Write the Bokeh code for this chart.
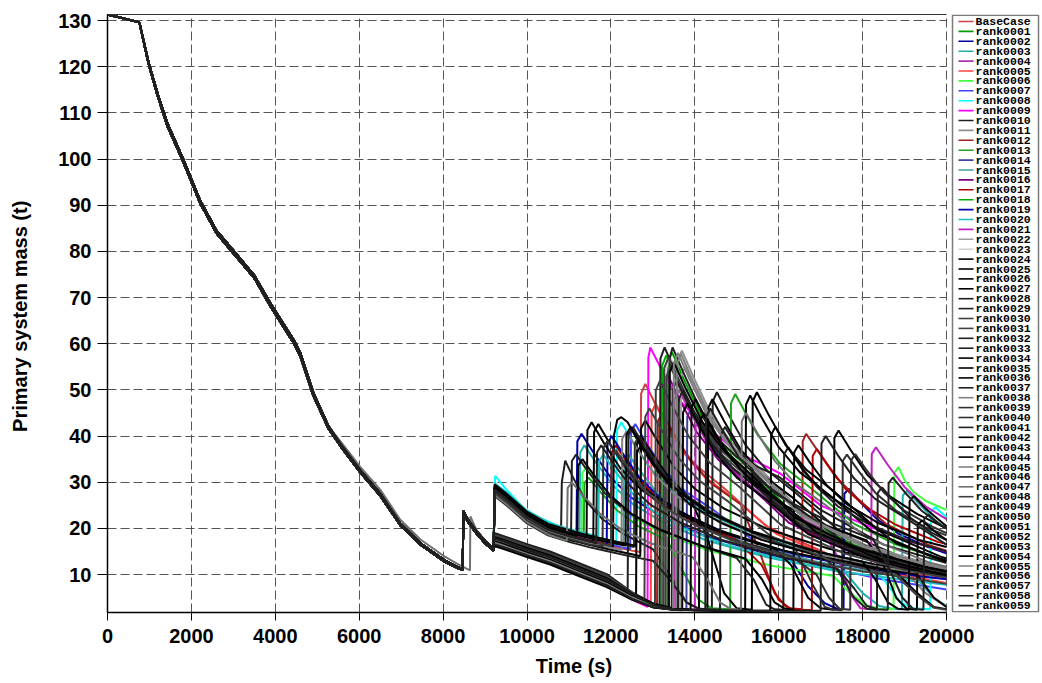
from bokeh.plotting import figure
from bokeh.models import Range1d, FixedTicker, LinearAxis
from bokeh.core.properties import value
from bokeh.embed import file_html
from bokeh.resources import INLINE

# ---------------- data ----------------
NAMES = ["BaseCase"] + ["rank%04d" % i for i in range(1, 60)]

COLORS = ["#d04040", "#00a000", "#0000a0", "#20b0b0", "#b030b0", "#ff4040", "#40ff40", "#4040ff",
          "#00ffff", "#ff00ff", "#202020", "#909090", "#a02020", "#20a020", "#4040a0", "#40a0a0",
          "#800080", "#b00000", "#00b000", "#0000b0", "#20c0c0", "#c020c0", "#a0a0a0", "#d0d0d0",
          "#000000", "#000000", "#000000", "#000000", "#202020", "#202020", "#404040", "#404040",
          "#202020", "#202020", "#000000", "#000000", "#000000", "#202020", "#808080", "#303030",
          "#303030", "#202020", "#000000", "#000000", "#000000", "#808080", "#202020", "#707070",
          "#404040", "#404040", "#000000", "#000000", "#000000", "#000000", "#000000", "#808080",
          "#404040", "#202020", "#202020", "#202020"]

BAND = "ULUULLUUUL" "ULLULULULU" "ULLLUUUULL" "LLLLLLLUUU" "ULLLULUULL" "ULLULLULUL"

X_TICKS = [0, 2000, 4000, 6000, 8000, 10000, 12000, 14000, 16000, 18000, 20000]
Y_TICKS = [10, 20, 30, 40, 50, 60, 70, 80, 90, 100, 110, 120, 130]

EARLY_T = [0, 760, 980, 1200, 1430, 1790, 2200, 2600, 3000, 3500, 3880, 4440, 4600, 4910,
           5270, 5550, 6020, 6500, 6980, 7460, 8020, 8330, 8440]
EARLY_M_UP = [131.3, 129.6, 120.9, 114.0, 107.7, 100.3, 91.2, 84.5, 80.2, 74.8, 68.8, 60.8, 57.9, 49.3,
              42.1, 38.4, 32.7, 27.6, 21.1, 16.8, 13.2, 11.7, 11.3]
EARLY_M_LO = [131.3, 129.6, 120.6, 113.5, 107.1, 99.7, 90.6, 83.9, 79.6, 74.2, 68.2, 60.1, 57.2, 48.7,
              41.6, 37.9, 32.2, 27.1, 20.7, 16.5, 12.9, 11.5, 11.1]

J1_T = [8470, 8480, 8600, 8800, 9000, 9205]
J1_M_UP = [11.1, 23.8, 21.8, 19.4, 17.3, 15.6]
J1_M_LO = [11.0, 23.3, 21.3, 18.9, 16.8, 15.2]

ALT_SERIES = 47
ALT_T = [5270, 5550, 6020, 6500, 6980, 7460, 8020, 8330, 8640, 8650, 8800, 9000, 9205]
ALT_M = [42.1, 38.9, 33.4, 28.4, 21.9, 17.6, 14.0, 12.4, 10.9, 22.6, 19.6, 17.4, 15.5]

LATE_T = [
    [9230, 9500, 10000, 10500, 11000, 11500, 12000, 12500, 12700, 12720, 12820, 13100, 13500, 14000, 14700, 15700, 17200, 18700, 20000],
    [9220, 9430, 10000, 10550, 11100, 11900, 12500, 13000, 13335, 13355, 13455, 13735, 14135, 14635, 15335, 16335, 17835, 19335, 20000],
    [9230, 9500, 10000, 10500, 11000, 11180, 11200, 11300, 11580, 11980, 12480, 13180, 14180, 15680, 16300, 16700, 17100, 17400, 17545, 17565, 17665, 17945, 18345, 18845, 19545, 20000],
    [9230, 9500, 10000, 10500, 11000, 11250, 11270, 11370, 11650, 12050, 12550, 13250, 14250, 15750, 17250, 17600, 18000, 18400, 18700, 18937, 18957, 19057, 19337, 19737, 20000],
    [9220, 9430, 10000, 10550, 11100, 11900, 12500, 13000, 13500, 13520, 13620, 13900, 14300, 14800, 15500, 16500, 18000, 19500, 20000],
    [9220, 9430, 10000, 10550, 11100, 11900, 12500, 12950, 12970, 13070, 13350, 13750, 14250, 14950, 15950, 17450, 18950, 20000],
    [9230, 9500, 10000, 10500, 11000, 11300, 11320, 11420, 11700, 12100, 12600, 13300, 14300, 15800, 17300, 17700, 18100, 18400, 18737, 18757, 18857, 19000, 19200, 19500, 20000],
    [9230, 9500, 10000, 10500, 11000, 11500, 12000, 12460, 12480, 12580, 12860, 13260, 13760, 14460, 15460, 16960, 18460, 20000],
    [9240, 9500, 10000, 10800, 11111, 11600, 12063, 12127, 12147, 12247, 12527, 12927, 13427, 14127, 15127, 16627, 18127, 18500, 18900, 19200, 19611, 19631, 19731, 20000],
    [9220, 9430, 10000, 10550, 11100, 11900, 12500, 12873, 12893, 12940, 13175, 13600, 14370, 15085, 16037, 17000, 18000, 19000, 20000],
    [9230, 9500, 10000, 10500, 10810, 10830, 10911, 11100, 11400, 11800, 12300, 13000, 13400, 13800, 14100, 14407, 14427, 14527, 14807, 15207, 15707, 16407, 17407, 18907, 20000],
    [9220, 9430, 10000, 10550, 11100, 11900, 12500, 13000, 13500, 13573, 13593, 13693, 13973, 14373, 14873, 15573, 16573, 18073, 19573, 20000],
    [9220, 9430, 10000, 10550, 11100, 11900, 12500, 13000, 13100, 13120, 13220, 13500, 13900, 14400, 15100, 15500, 15900, 16200, 16553, 16573, 16653, 16953, 17353, 17853, 18553, 19553, 20000],
    [9230, 9500, 10000, 10500, 11000, 11350, 11370, 11470, 11750, 12150, 12650, 13350, 13700, 14100, 14400, 14843, 14863, 14963, 15480, 16037, 16800, 17800, 18800, 20000],
    [9220, 9430, 10000, 10550, 11100, 11900, 12500, 13000, 13500, 13800, 13820, 13920, 14200, 14600, 15100, 15800, 16800, 18300, 19800, 20000],
    [9230, 9500, 10000, 10500, 11000, 11500, 12000, 12300, 12320, 12420, 12700, 13100, 13600, 14300, 15300, 16800, 18300, 19300, 19700, 20000],
    [9220, 9430, 10000, 10550, 11100, 11900, 12500, 13000, 13250, 13270, 13370, 13650, 14050, 14550, 15250, 16250, 17750, 19250, 20000],
    [9230, 9500, 10000, 10500, 11000, 11500, 12000, 12020, 12120, 12400, 12800, 13300, 14000, 15000, 15600, 16000, 16300, 16790, 16810, 16910, 17190, 17590, 18090, 18790, 19790, 20000],
    [9220, 9430, 10000, 10550, 11100, 11900, 12500, 13000, 13200, 13220, 13320, 13600, 14000, 14500, 15200, 16200, 17700, 19200, 20000],
    [9230, 9500, 10000, 10500, 11000, 11500, 11900, 11920, 12020, 12300, 12700, 13200, 13900, 14900, 16400, 17900, 19400, 20000],
    [9230, 9500, 10000, 10500, 11000, 11500, 11700, 11720, 11820, 12100, 12500, 13000, 13700, 14700, 16200, 17700, 19200, 20000],
    [9220, 9430, 10000, 10550, 11100, 11900, 12500, 13000, 13500, 14000, 14020, 14120, 14400, 14800, 15300, 16000, 17000, 17400, 17700, 17950, 18198, 18218, 18318, 18598, 18998, 19498, 20000],
    [9220, 9430, 10000, 10550, 11100, 11900, 12500, 13000, 13500, 13650, 13670, 13770, 14050, 14450, 14950, 15650, 16650, 18150, 19650, 20000],
    [9220, 9430, 10000, 10550, 11100, 11900, 12500, 13000, 13300, 13320, 13420, 13700, 14100, 14600, 15300, 16300, 17800, 19300, 20000],
    [9230, 9500, 10000, 10500, 11000, 11420, 11440, 11540, 11820, 12220, 12720, 13420, 14420, 15920, 16300, 16700, 17000, 17307, 17327, 17427, 17707, 18107, 18607, 19307, 20000],
    [9230, 9500, 10000, 10500, 11000, 11500, 11580, 11600, 11700, 11980, 12380, 12880, 13580, 14580, 16080, 17580, 18800, 19300, 19700, 20000],
    [9230, 9500, 10000, 10500, 11000, 11500, 12050, 12070, 12150, 12250, 12400, 12700, 13100, 13600, 14300, 15300, 16800, 18300, 20000],
    [9230, 9500, 10000, 10500, 11000, 11500, 12000, 12500, 12700, 12720, 12820, 13100, 13500, 14000, 14700, 15700, 17200, 18700, 20000],
    [9220, 9430, 10000, 10550, 11100, 11900, 12500, 13000, 13160, 13180, 13280, 13560, 13960, 14460, 15160, 16160, 17660, 19160, 20000],
    [9220, 9430, 10000, 10550, 11100, 11900, 12500, 13000, 13380, 13400, 13470, 13750, 14370, 15000, 16037, 17000, 18500, 20000],
    [9220, 9430, 10000, 10550, 11100, 11900, 12500, 13000, 13250, 13270, 13370, 13650, 14050, 14550, 15250, 16250, 17750, 19250, 20000],
    [9220, 9430, 10000, 10550, 11100, 11900, 12500, 13000, 13300, 13320, 13420, 13700, 14100, 14600, 15300, 16300, 17800, 19300, 20000],
    [9220, 9430, 10000, 10550, 11100, 11900, 12500, 13000, 13450, 13470, 13570, 13850, 14250, 14750, 15450, 16450, 17950, 19450, 20000],
    [9220, 9430, 10000, 10550, 11100, 11900, 12500, 13000, 13500, 13600, 13620, 13720, 14000, 14400, 14900, 15600, 16600, 18100, 19600, 20000],
    [9220, 9430, 10000, 10550, 11100, 11900, 12500, 13000, 13500, 14000, 14300, 14320, 14420, 14700, 15100, 15600, 16300, 17300, 18800, 20000],
    [9220, 9430, 10000, 10550, 11100, 11900, 12500, 13000, 13500, 14500, 15200, 15220, 15320, 15600, 16000, 16500, 17200, 18200, 19700, 20000],
    [9220, 9430, 10000, 10550, 11100, 11900, 12600, 12620, 12720, 13000, 13400, 13900, 14300, 14700, 15000, 15360, 15380, 15480, 15760, 16160, 16660, 17360, 18360, 19860, 20000],
    [9230, 9500, 10000, 10500, 11000, 11050, 11070, 11170, 11450, 11850, 12350, 13050, 14050, 15000, 15400, 15700, 15900, 16110, 16130, 16230, 16510, 16910, 17410, 18110, 19110, 20000],
    [9230, 9500, 10000, 10500, 11000, 11500, 12000, 12250, 12270, 12370, 12650, 13050, 13550, 14250, 15250, 16750, 18250, 19000, 19500, 20000],
    [9230, 9500, 10000, 10500, 11000, 11500, 12000, 12550, 12570, 12670, 12950, 13350, 13850, 14550, 15550, 16400, 16800, 17100, 17300, 17507, 17527, 17627, 17907, 18307, 18807, 19507, 20000],
    [9230, 9500, 10000, 10500, 11000, 11500, 11800, 11820, 11920, 12200, 12600, 13100, 13800, 14800, 16300, 16900, 17200, 17450, 17705, 17725, 17825, 18105, 18505, 19005, 19705, 20000],
    [9220, 9430, 10000, 10550, 11100, 11900, 12400, 12420, 12520, 12800, 13200, 13700, 14400, 15400, 16900, 17400, 17800, 18100, 18341, 18361, 18461, 18741, 19141, 19641, 20000],
    [9220, 9430, 10000, 10550, 11100, 11900, 12500, 13000, 13500, 13700, 13720, 13820, 14100, 14500, 15000, 15700, 16700, 18200, 19700, 20000],
    [9220, 9430, 10000, 10550, 11100, 11900, 12500, 13000, 13500, 14100, 14120, 14220, 14500, 14900, 15400, 16100, 17100, 18100, 18500, 18800, 19050, 19295, 19315, 19415, 19695, 20000],
    [9230, 9500, 10000, 10500, 11000, 11500, 12000, 12500, 12600, 12620, 12720, 13000, 13400, 13900, 14600, 15600, 17100, 18600, 19300, 19700, 20000],
    [9220, 9430, 10000, 10550, 11100, 11900, 12500, 13000, 13500, 13550, 13570, 13670, 13950, 14350, 14850, 15550, 16550, 18050, 19550, 20000],
    [9230, 9500, 10000, 10500, 11000, 11500, 12000, 12500, 13000, 13400, 13800, 14100, 14600, 14620, 14720, 15000, 15400, 15900, 16600, 17600, 19100, 20000],
    [9230, 9500, 10000, 10500, 10950, 10970, 11070, 11350, 11750, 12250, 12950, 13950, 14300, 14600, 14850, 15100, 15120, 15220, 15500, 15900, 16400, 17100, 18100, 19600, 20000],
    [9220, 9430, 10000, 10550, 11100, 11900, 12500, 12800, 12820, 12920, 13200, 13600, 14100, 14800, 15800, 17300, 18800, 20000],
    [9220, 9430, 10000, 10550, 11100, 11900, 12500, 13000, 13050, 13070, 13170, 13450, 13850, 14350, 15050, 16050, 17550, 19050, 20000],
    [9230, 9500, 10000, 10500, 11000, 11500, 12000, 12350, 12370, 12470, 12750, 13150, 13650, 14350, 15350, 16850, 18000, 18300, 18600, 18850, 19100, 19120, 19220, 19500, 20000],
    [9220, 9430, 10000, 10550, 11100, 11900, 12500, 13000, 13380, 13400, 13500, 13780, 14180, 14680, 15380, 16380, 17880, 19380, 20000],
    [9220, 9430, 10000, 10550, 11100, 11900, 12500, 13000, 13500, 14500, 15800, 15820, 15920, 16200, 16600, 17100, 17800, 18800, 20000],
    [9230, 9500, 10000, 10500, 11000, 11200, 11220, 11320, 11600, 12000, 12500, 13200, 14200, 15200, 15600, 15900, 16150, 16350, 16370, 16470, 16750, 17150, 17650, 18350, 19350, 20000],
    [9220, 9430, 10000, 10550, 11100, 11900, 12500, 13000, 13500, 13900, 13920, 14020, 14300, 14700, 15200, 15900, 16900, 18400, 19900, 20000],
    [9220, 9430, 10000, 10550, 11100, 11900, 12500, 13000, 13480, 13500, 13600, 13880, 14280, 14780, 15480, 16480, 17980, 19480, 20000],
    [9230, 9500, 10000, 10500, 11000, 11500, 12000, 12020, 12120, 12400, 12800, 13300, 14000, 15000, 16500, 18000, 18800, 19300, 19700, 20000],
    [9220, 9430, 10000, 10550, 11100, 11900, 12500, 13000, 13500, 14250, 14270, 14370, 14650, 15050, 15550, 16250, 17250, 18250, 18600, 18950, 19200, 19450, 19470, 19570, 19850, 20000],
    [9230, 9500, 10000, 10500, 11000, 11500, 11650, 11670, 11770, 12050, 12450, 12950, 13650, 14650, 16150, 17400, 17800, 18100, 18350, 18600, 18620, 18720, 19000, 19400, 19900, 20000],
    [9220, 9430, 10000, 10550, 11100, 11900, 12500, 13000, 13500, 15000, 17000, 17020, 17120, 17400, 17800, 18300, 19000, 20000],
]

LATE_M = [
    [28.3, 26.4, 22.4, 19.8, 18.4, 17.2, 16.2, 15.2, 14.9, 49.2, 51.3, 46.2, 39.5, 33.9, 28.7, 20.5, 14.4, 11.0, 9.0],
    [17.6, 17.0, 15.2, 13.6, 11.6, 8.7, 5.6, 3.4, 2.6, 55.9, 58.2, 52.4, 44.8, 38.4, 32.6, 23.3, 16.3, 12.2, 10.8],
    [28.8, 26.9, 22.9, 20.3, 18.9, 18.7, 38.9, 40.5, 36.5, 31.2, 26.7, 22.7, 18.6, 14.6, 13.2, 7.5, 3.8, 2.6, 2.5, 27.5, 28.6, 25.7, 22.0, 18.9, 16.0, 14.6],
    [29.3, 27.4, 23.4, 20.8, 19.4, 18.9, 36.5, 38.0, 34.2, 29.3, 25.1, 21.3, 17.5, 13.7, 11.0, 10.3, 6.0, 3.2, 2.6, 2.5, 27.1, 28.2, 25.4, 21.7, 20.0],
    [17.1, 16.5, 14.7, 13.1, 11.1, 8.2, 5.3, 3.2, 2.4, 48.0, 50.0, 45.0, 38.5, 33.0, 28.0, 20.0, 14.0, 10.5, 9.8],
    [18.6, 18.0, 16.2, 14.6, 12.6, 9.7, 6.1, 4.0, 45.1, 47.0, 42.3, 36.2, 31.0, 26.3, 18.8, 13.2, 9.9, 8.2],
    [27.8, 25.9, 21.9, 19.3, 17.9, 17.5, 32.0, 33.3, 30.0, 25.6, 22.0, 18.6, 15.3, 12.0, 9.7, 6.0, 3.4, 2.6, 2.5, 32.0, 33.3, 30.5, 28.0, 26.0, 24.0],
    [28.6, 26.7, 22.7, 20.1, 18.7, 17.5, 16.5, 15.5, 40.9, 42.6, 38.3, 32.8, 28.1, 23.9, 17.0, 11.9, 9.0, 6.8],
    [31.4, 28.5, 23.6, 20.3, 19.2, 17.8, 16.7, 16.6, 41.3, 43.0, 38.7, 33.1, 28.4, 24.1, 19.8, 15.5, 12.5, 9.0, 4.0, 2.7, 2.5, 23.6, 24.6, 22.5],
    [16.6, 16.0, 14.2, 12.6, 10.6, 7.7, 4.6, 3.0, 57.0, 59.2, 55.0, 48.0, 41.2, 36.2, 31.9, 25.0, 21.0, 17.5, 15.0],
    [28.0, 26.1, 22.1, 19.5, 18.6, 30.0, 34.7, 31.0, 26.0, 22.0, 18.8, 15.5, 10.0, 4.0, 2.6, 2.4, 47.5, 49.5, 44.6, 38.1, 32.7, 27.7, 19.8, 13.9, 11.5],
    [17.9, 17.3, 15.5, 13.9, 11.9, 9.0, 5.8, 3.5, 2.5, 2.4, 56.2, 58.5, 52.7, 45.0, 38.6, 32.8, 23.4, 16.4, 12.3, 11.5],
    [18.1, 17.5, 15.7, 14.1, 12.1, 9.2, 5.9, 3.6, 3.3, 43.2, 45.0, 40.5, 34.7, 29.7, 25.2, 16.0, 6.0, 2.8, 2.5, 38.9, 40.5, 36.5, 31.2, 26.7, 21.0, 16.5, 15.2],
    [27.3, 25.4, 21.4, 18.8, 17.4, 17.0, 29.8, 31.0, 27.9, 23.9, 20.5, 17.4, 11.0, 4.5, 2.7, 2.5, 47.1, 49.1, 40.5, 34.0, 28.5, 21.0, 16.5, 13.0],
    [17.3, 16.7, 14.9, 13.3, 11.3, 8.4, 5.4, 3.3, 2.5, 2.4, 44.2, 46.0, 41.4, 35.4, 30.4, 25.8, 18.4, 12.9, 9.7, 9.4],
    [29.1, 27.2, 23.2, 20.6, 19.2, 18.0, 17.0, 16.6, 34.6, 36.0, 32.4, 27.7, 23.8, 20.2, 16.6, 13.0, 10.4, 9.0, 5.0, 3.2],
    [18.4, 17.8, 16.0, 14.4, 12.4, 9.5, 6.0, 3.7, 3.0, 50.9, 53.0, 47.7, 40.8, 35.0, 29.7, 21.2, 14.8, 11.1, 10.0],
    [28.5, 26.6, 22.6, 20.0, 18.6, 17.4, 16.4, 36.5, 38.0, 34.2, 29.3, 25.1, 21.3, 17.5, 12.0, 4.5, 2.5, 2.3, 35.7, 37.2, 33.5, 28.6, 24.6, 20.8, 17.1, 16.6],
    [16.8, 16.2, 14.4, 12.8, 10.8, 7.9, 5.0, 3.1, 2.8, 55.2, 57.5, 51.8, 44.3, 38.0, 32.2, 23.0, 16.1, 12.1, 10.8],
    [27.8, 25.9, 21.9, 19.3, 17.9, 16.7, 15.9, 38.4, 40.0, 36.0, 30.8, 26.4, 22.4, 18.4, 14.4, 11.6, 9.6, 9.0],
    [29.8, 27.9, 23.9, 21.3, 19.9, 18.7, 18.3, 34.6, 36.0, 32.4, 27.7, 23.8, 20.2, 16.6, 13.0, 10.4, 8.6, 7.8],
    [17.8, 17.2, 15.4, 13.8, 11.8, 8.9, 5.7, 3.5, 2.6, 2.4, 42.2, 44.0, 39.6, 33.9, 29.0, 24.6, 20.2, 14.0, 6.0, 2.7, 2.5, 36.1, 37.6, 33.8, 29.0, 24.8, 22.0],
    [17.4, 16.8, 15.0, 13.4, 11.4, 8.5, 5.5, 3.3, 2.5, 2.4, 52.8, 55.0, 49.5, 42.4, 36.3, 30.8, 22.0, 15.4, 11.6, 11.0],
    [18.2, 17.6, 15.8, 14.2, 12.2, 9.3, 5.9, 3.6, 2.9, 54.7, 57.0, 51.3, 43.9, 37.6, 31.9, 22.8, 16.0, 12.0, 10.8],
    [28.9, 27.0, 23.0, 20.4, 19.0, 18.2, 41.3, 43.0, 38.7, 33.1, 28.4, 24.1, 19.8, 15.5, 12.0, 5.0, 2.7, 2.4, 39.6, 41.2, 37.1, 31.7, 27.2, 23.1, 20.0],
    [28.4, 26.5, 22.5, 19.9, 18.5, 17.3, 17.1, 40.9, 42.6, 38.3, 32.8, 28.1, 23.9, 19.6, 15.3, 12.4, 10.5, 6.0, 3.0, 2.5],
    [28.1, 26.2, 22.2, 19.6, 18.2, 17.0, 16.0, 40.0, 43.5, 44.1, 43.0, 38.0, 32.5, 28.0, 23.5, 19.5, 15.2, 12.2, 9.8],
    [27.5, 25.6, 21.6, 19.0, 17.6, 16.4, 15.4, 14.4, 14.0, 41.7, 43.4, 39.1, 33.4, 28.6, 24.3, 20.0, 15.6, 12.6, 10.8],
    [17.1, 16.5, 14.7, 13.1, 11.1, 8.2, 5.3, 3.2, 2.8, 56.8, 59.2, 53.3, 45.6, 39.1, 33.2, 23.7, 16.6, 12.4, 11.0],
    [17.7, 17.1, 15.3, 13.7, 11.7, 8.8, 5.6, 3.4, 2.6, 56.8, 59.2, 53.3, 41.0, 35.5, 31.0, 24.0, 16.5, 12.5],
    [18.0, 17.4, 15.6, 14.0, 12.0, 9.1, 5.8, 3.5, 2.9, 54.7, 57.0, 51.3, 43.9, 37.6, 31.9, 22.8, 16.0, 12.0, 10.8],
    [16.4, 15.8, 14.0, 12.4, 10.4, 7.5, 4.7, 3.0, 2.6, 52.8, 55.0, 49.5, 42.4, 36.3, 30.8, 22.0, 15.4, 11.6, 10.5],
    [18.8, 18.2, 16.4, 14.8, 12.8, 9.9, 6.2, 3.8, 2.8, 49.9, 52.0, 46.8, 40.0, 34.3, 29.1, 20.8, 14.6, 10.9, 10.2],
    [17.0, 16.4, 14.6, 13.0, 11.0, 8.1, 5.2, 3.2, 2.5, 2.4, 48.0, 50.0, 45.0, 38.5, 33.0, 28.0, 20.0, 14.0, 10.5, 10.0],
    [18.5, 17.9, 16.1, 14.5, 12.5, 9.6, 6.0, 3.7, 2.6, 2.3, 2.3, 46.1, 48.0, 43.2, 37.0, 31.7, 26.9, 19.2, 13.4, 10.8],
    [16.7, 16.1, 14.3, 12.7, 10.7, 7.8, 4.9, 3.0, 2.4, 2.2, 2.2, 46.8, 48.8, 43.9, 37.6, 32.2, 27.3, 19.5, 13.7, 12.8],
    [17.6, 17.0, 15.2, 13.6, 11.6, 8.7, 5.3, 38.4, 40.0, 36.0, 30.8, 26.4, 18.0, 6.0, 2.7, 2.4, 47.5, 49.5, 44.6, 38.1, 32.7, 27.7, 19.8, 13.9, 13.5],
    [28.7, 26.8, 22.8, 20.2, 18.8, 18.7, 34.6, 36.0, 32.4, 27.7, 23.8, 20.2, 16.6, 13.6, 9.0, 3.5, 2.5, 2.4, 36.1, 37.6, 33.8, 29.0, 24.8, 21.1, 17.3, 15.0],
    [27.9, 26.0, 22.0, 19.4, 18.0, 16.8, 15.8, 15.3, 39.4, 41.0, 36.9, 31.6, 27.1, 23.0, 18.9, 14.8, 11.9, 10.8, 6.0, 3.0],
    [29.2, 27.3, 23.3, 20.7, 19.3, 18.1, 17.1, 16.0, 38.4, 40.0, 36.0, 30.8, 26.4, 22.4, 18.4, 15.5, 8.0, 3.0, 2.4, 2.3, 34.6, 36.0, 32.4, 27.7, 23.8, 20.2, 18.5],
    [27.6, 25.7, 21.7, 19.1, 17.7, 16.5, 16.1, 37.4, 39.0, 35.1, 30.0, 25.7, 21.8, 17.9, 14.0, 10.0, 5.0, 2.6, 2.4, 34.7, 36.1, 32.5, 27.8, 23.8, 20.2, 19.0],
    [19.0, 18.4, 16.6, 15.0, 13.0, 10.1, 6.8, 40.3, 42.0, 37.8, 32.3, 27.7, 23.5, 19.3, 15.1, 11.0, 5.0, 2.6, 2.4, 27.7, 28.9, 26.0, 22.3, 19.1, 17.5],
    [16.2, 15.6, 13.8, 12.2, 10.2, 7.3, 4.6, 2.9, 2.4, 2.3, 45.1, 47.0, 42.3, 36.2, 31.0, 26.3, 18.8, 13.2, 9.9, 9.5],
    [18.3, 17.7, 15.9, 14.3, 12.3, 9.4, 5.9, 3.6, 2.6, 2.3, 43.2, 45.0, 40.5, 34.7, 29.7, 25.2, 20.7, 17.4, 12.0, 5.0, 2.6, 2.4, 20.8, 21.7, 19.5, 17.5],
    [29.5, 27.6, 23.6, 21.0, 19.6, 18.4, 17.4, 16.4, 16.2, 36.5, 38.0, 34.2, 29.3, 25.1, 21.3, 17.5, 13.7, 11.0, 10.0, 5.0, 3.0],
    [17.5, 16.9, 15.1, 13.5, 11.5, 8.6, 5.5, 3.3, 2.5, 2.4, 55.5, 57.8, 52.0, 44.5, 38.1, 32.4, 23.1, 16.2, 12.1, 11.3],
    [27.0, 25.1, 21.1, 18.5, 17.1, 15.9, 14.9, 13.9, 13.0, 9.0, 4.0, 2.6, 2.4, 40.3, 42.0, 37.8, 32.3, 27.7, 23.5, 16.8, 11.7, 9.8],
    [27.2, 25.3, 21.3, 18.7, 17.3, 28.8, 30.0, 27.0, 23.1, 19.8, 16.8, 13.8, 9.0, 4.0, 2.6, 2.4, 43.2, 45.0, 40.5, 34.7, 29.7, 25.2, 18.0, 12.6, 11.7],
    [18.6, 18.0, 16.2, 14.6, 12.6, 9.7, 6.1, 4.5, 44.2, 46.0, 41.4, 35.4, 30.4, 25.8, 18.4, 12.9, 9.7, 8.0],
    [17.3, 16.7, 14.9, 13.3, 11.3, 8.4, 5.4, 3.3, 3.1, 49.9, 52.0, 46.8, 40.0, 34.3, 29.1, 20.8, 14.6, 10.9, 9.4],
    [29.0, 27.1, 23.1, 20.5, 19.1, 17.9, 16.9, 16.3, 40.3, 42.0, 37.8, 32.3, 27.7, 23.5, 19.3, 15.1, 12.8, 9.0, 4.0, 2.6, 2.4, 25.9, 27.0, 24.3, 20.5],
    [17.8, 17.2, 15.4, 13.8, 11.8, 8.9, 5.7, 3.4, 2.7, 53.8, 56.0, 50.4, 43.1, 37.0, 31.4, 22.4, 15.7, 11.8, 10.6],
    [17.2, 16.6, 14.8, 13.2, 11.2, 8.3, 5.3, 3.2, 2.5, 2.2, 2.2, 40.3, 42.0, 37.8, 32.3, 27.7, 23.5, 16.8, 13.0],
    [28.6, 26.7, 22.7, 20.1, 18.7, 18.4, 33.6, 35.0, 31.5, 27.0, 23.1, 19.6, 16.1, 13.5, 9.0, 4.0, 2.6, 2.4, 36.5, 38.0, 34.2, 29.3, 25.1, 21.3, 17.5, 16.0],
    [18.1, 17.5, 15.7, 14.1, 12.1, 9.2, 5.9, 3.6, 2.6, 2.4, 46.1, 48.0, 43.2, 37.0, 31.7, 26.9, 19.2, 13.4, 10.1, 9.9],
    [16.9, 16.3, 14.5, 12.9, 10.9, 8.0, 5.1, 3.1, 2.5, 55.7, 58.0, 52.2, 44.7, 38.3, 32.5, 23.2, 16.2, 12.2, 11.2],
    [28.3, 26.4, 22.4, 19.8, 18.4, 17.2, 16.2, 35.5, 37.0, 33.3, 28.5, 24.4, 20.7, 17.0, 13.3, 10.7, 9.8, 5.5, 2.8, 2.4],
    [16.6, 16.0, 14.2, 12.6, 10.6, 7.7, 4.8, 3.0, 2.4, 2.3, 44.2, 46.0, 41.4, 35.4, 30.4, 25.8, 21.2, 17.6, 12.0, 5.0, 2.6, 2.4, 22.1, 23.0, 20.7, 20.0],
    [28.2, 26.3, 22.3, 19.7, 18.3, 17.1, 16.8, 36.5, 38.0, 34.2, 29.3, 25.1, 21.3, 17.5, 13.7, 11.3, 7.0, 3.2, 2.5, 2.4, 29.8, 31.0, 27.9, 23.9, 20.5, 20.0],
    [17.9, 17.3, 15.5, 13.9, 11.9, 9.0, 5.8, 3.5, 2.5, 2.2, 2.2, 38.4, 40.0, 36.0, 30.8, 26.4, 22.4, 16.5],
]

for _i in range(60):
    assert len(LATE_T[_i]) == len(LATE_M[_i]), "length mismatch in series %d" % _i

# ---------------- layout (page pixels) ----------------
FIG_W, FIG_H = 1042, 683
FRAME_L, FRAME_R, FRAME_T, FRAME_B = 107, 1040, 14, 612   # plot frame (data area + legend strip)
X_DATA_END_PX = 946                                      # where t = 20000 s falls
Y_MIN, Y_MAX = 1.8, 131.3
X_MAX = 20000.0
X_END = X_MAX * (FRAME_R - FRAME_L) / (X_DATA_END_PX - FRAME_L)


def px_to_x(px):
    return (px - FRAME_L) / (FRAME_R - FRAME_L) * X_END


def py_to_y(py):
    return Y_MAX - (py - FRAME_T) / (FRAME_B - FRAME_T) * (Y_MAX - Y_MIN)


TICK_FONT = "Liberation Sans"

p = figure(width=FIG_W, height=FIG_H, title=None,
           x_range=Range1d(0, X_END), y_range=Range1d(Y_MIN, Y_MAX),
           output_backend="svg", toolbar_location=None,
           min_border_left=FRAME_L, min_border_top=FRAME_T,
           min_border_right=FIG_W - FRAME_R, min_border_bottom=FIG_H - FRAME_B)

p.background_fill_color = "white"
p.border_fill_color = "white"
p.outline_line_color = None

p.xaxis.ticker = FixedTicker(ticks=X_TICKS)
p.yaxis.ticker = FixedTicker(ticks=Y_TICKS)
p.xgrid.ticker = FixedTicker(ticks=X_TICKS)
p.ygrid.ticker = FixedTicker(ticks=Y_TICKS)
p.ygrid.cross_bounds = (0, X_MAX)
p.grid.grid_line_color = "#555555"
p.grid.grid_line_dash = "9 4"
p.grid.grid_line_width = 1
p.xaxis.bounds = (0, X_MAX)

for ax in (p.xaxis, p.yaxis):
    ax.axis_line_color = "black"
    ax.axis_line_width = 1.5
    ax.major_tick_in = 0
    ax.major_tick_line_color = "black"
    ax.minor_tick_line_color = None
    ax.major_label_text_font = TICK_FONT
    ax.major_label_text_font_style = "bold"
    ax.major_label_text_font_size = "20px"
    ax.major_label_text_color = "black"
    ax.axis_label_text_font = TICK_FONT
    ax.axis_label_text_font_style = "bold"
    ax.axis_label_text_font_size = "20px"
    ax.axis_label_text_color = "black"

p.xaxis.major_tick_out = 8
p.yaxis.major_tick_out = 10
p.xaxis.major_label_standoff = 8
p.yaxis.major_label_standoff = 6
p.xaxis.axis_label = "Time (s)"
p.yaxis.axis_label = "Primary system mass  (t)"
p.xaxis.axis_label_standoff = 9
p.yaxis.axis_label_standoff = 24

# top border line of the data area
top = LinearAxis(ticker=FixedTicker(ticks=[]), bounds=(0, X_MAX), axis_line_color="#333333",
                 axis_line_width=1, major_tick_out=0, major_tick_in=0, minor_tick_line_color=None,
                 major_label_text_font_size="0px")
p.add_layout(top, "above")

for i in range(60):
    if i == ALT_SERIES:
        ts = [t for t in EARLY_T if t < ALT_T[0]] + ALT_T
        ms = EARLY_M_UP[:len(ts) - len(ALT_T)] + ALT_M
    elif BAND[i] == "U":
        ts = EARLY_T + J1_T
        ms = EARLY_M_UP + J1_M_UP
    else:
        ts = EARLY_T + J1_T
        ms = EARLY_M_LO + J1_M_LO
    ts = ts + LATE_T[i]
    ms = ms + LATE_M[i]
    p.line(ts, ms, line_color=COLORS[i], line_width=2.0)

# ---------------- legend strip (right of t = 20000 s) ----------------
BOX_L, BOX_R, BOX_T, BOX_B = 952, 1038, 14.75, 611.25
ROW0, ROW = 21.0, 9.9
row_py = [ROW0 + ROW * k for k in range(60)]
row_y = [py_to_y(v) for v in row_py]

p.quad(left=[px_to_x(BOX_L)], right=[px_to_x(BOX_R)], top=[py_to_y(BOX_T)], bottom=[py_to_y(BOX_B)],
       fill_color="white", line_color="#7a7a7a", line_width=1.5)
p.segment(x0=[px_to_x(958)] * 60, x1=[px_to_x(973)] * 60, y0=row_y, y1=row_y,
          line_color=COLORS, line_width=1.6)
p.text(x=[px_to_x(975)] * 60, y=row_y, text=NAMES,
       text_font=value("Liberation Mono"), text_font_style="bold", text_font_size="11.5px",
       text_color="black", text_baseline="middle", text_align="left")

open("out.html", "w").write(file_html(p, INLINE))
